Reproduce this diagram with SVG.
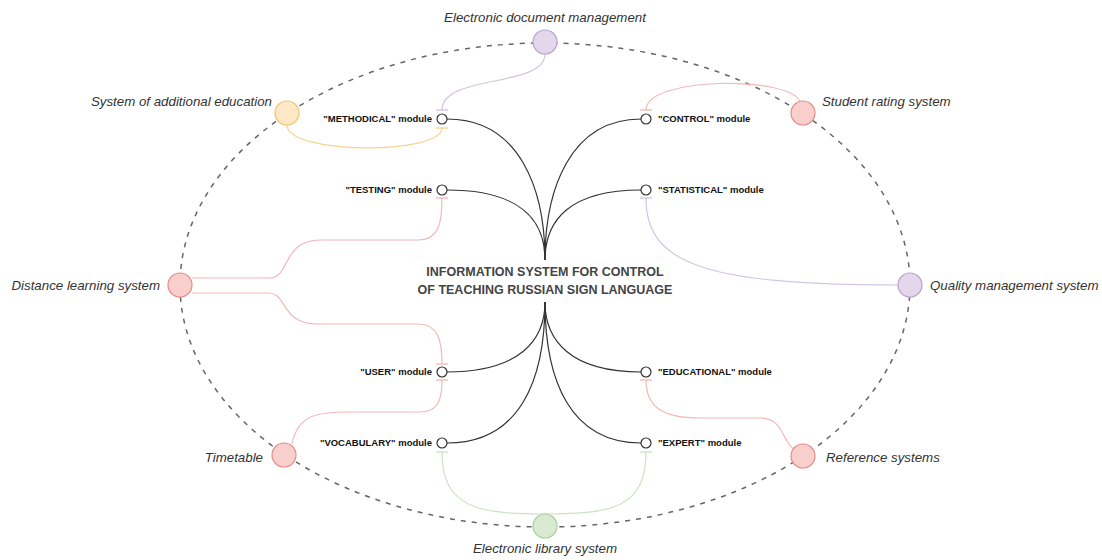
<svg xmlns="http://www.w3.org/2000/svg" width="1102" height="560" viewBox="0 0 1102 560">
<style>
.ext{font-family:"Liberation Sans",Arial,sans-serif;font-style:italic;font-size:13.3px;fill:#333}
.mod{font-family:"Liberation Sans",Arial,sans-serif;font-weight:bold;font-size:9.5px;fill:#111}
.title{font-family:"Liberation Sans",Arial,sans-serif;font-weight:bold;font-size:12.5px;fill:#444}
.core{fill:none;stroke:#333;stroke-width:1.2}
.mc{fill:#fff;stroke:#333;stroke-width:1.2}
.c{fill:none;stroke-width:1.2}
.pu{stroke:#d3c5e4}.or{stroke:#f5d48f}.re{stroke:#f2b9b7}.gr{stroke:#cde4c4}
.tick{stroke-width:1.4}
.ring{fill:none;stroke:#666;stroke-width:1.5;stroke-dasharray:5 6}
</style>
<rect width="1102" height="560" fill="#fff"/>
<ellipse class="ring" cx="545" cy="285" rx="365" ry="242"/>
<g id="connectors">
<path class="core" d="M447,119 C520,119 545,190 545,260"/>
<path class="core" d="M641,119 C570,119 545,190 545,260"/>
<path class="core" d="M447,190 C520,190 545,220 545,260"/>
<path class="core" d="M641,190 C570,190 545,220 545,260"/>
<path class="core" d="M447,372 C520,372 545,340 545,302"/>
<path class="core" d="M641,372 C570,372 545,340 545,302"/>
<path class="core" d="M447,443 C520,443 545,380 545,302"/>
<path class="core" d="M641,443 C570,443 545,380 545,302"/>
<path class="c pu" d="M545,54 C545,88 442,74 442,110"/>
<line class="tick pu" x1="436" y1="110" x2="448" y2="110"/>
<path class="c or" d="M287,125 C287,155 442,155 442,128"/>
<line class="tick or" x1="436" y1="128" x2="448" y2="128"/>
<path class="c re" d="M800,102 C792,76 646,76 646,110"/>
<line class="tick re" x1="640" y1="110" x2="652" y2="110"/>
<path class="c pu" d="M646,198 C646,262 700,285 898,285"/>
<line class="tick pu" x1="640" y1="198" x2="652" y2="198"/>
<path class="c re" d="M192,278 L270,278 C290,278 282,240 320,240 L418,240 C438,240 442,225 442,198"/>
<line class="tick re" x1="436" y1="198" x2="448" y2="198"/>
<path class="c re" d="M192,293 L268,293 C288,293 280,324 318,324 L418,324 C438,324 442,340 442,364"/>
<line class="tick re" x1="436" y1="364" x2="448" y2="364"/>
<path class="c re" d="M292,444 C298,414 318,412 350,412 L420,412 C438,412 442,400 442,380"/>
<line class="tick re" x1="436" y1="380" x2="448" y2="380"/>
<path class="c re" d="M646,380 C646,408 664,418 700,418 L760,418 C784,418 782,442 794,449"/>
<line class="tick re" x1="640" y1="380" x2="652" y2="380"/>
<path class="c gr" d="M442,452 C442,508 478,514 545,514"/>
<line class="tick gr" x1="436" y1="452" x2="448" y2="452"/>
<path class="c gr" d="M646,452 C646,508 612,514 545,514"/>
<line class="tick gr" x1="640" y1="452" x2="652" y2="452"/>
</g>
<g id="core">
<text class="title" x="545" y="276" text-anchor="middle">INFORMATION SYSTEM FOR CONTROL</text>
<text class="title" x="545" y="294" text-anchor="middle">OF TEACHING RUSSIAN SIGN LANGUAGE</text>
</g>
<g id="mod-methodical"><circle class="mc" cx="442" cy="119" r="5"/><text class="mod" x="432" y="122" text-anchor="end">"METHODICAL" module</text></g>
<g id="mod-control"><circle class="mc" cx="646" cy="119" r="5"/><text class="mod" x="658" y="122">"CONTROL" module</text></g>
<g id="mod-testing"><circle class="mc" cx="442" cy="190" r="5"/><text class="mod" x="432" y="193" text-anchor="end">"TESTING" module</text></g>
<g id="mod-statistical"><circle class="mc" cx="646" cy="190" r="5"/><text class="mod" x="658" y="193">"STATISTICAL" module</text></g>
<g id="mod-user"><circle class="mc" cx="442" cy="372" r="5"/><text class="mod" x="432" y="375" text-anchor="end">"USER" module</text></g>
<g id="mod-educational"><circle class="mc" cx="646" cy="372" r="5"/><text class="mod" x="658" y="375">"EDUCATIONAL" module</text></g>
<g id="mod-vocabulary"><circle class="mc" cx="442" cy="443" r="5"/><text class="mod" x="432" y="446" text-anchor="end">"VOCABULARY" module</text></g>
<g id="mod-expert"><circle class="mc" cx="646" cy="443" r="5"/><text class="mod" x="658" y="446">"EXPERT" module</text></g>
<g id="ext-doc"><circle cx="545" cy="42" r="12" fill="#e4d7ec" stroke="#b9a2cf" stroke-width="1.2"/><text class="ext" x="545" y="22" text-anchor="middle">Electronic document management</text></g>
<g id="ext-additional"><circle cx="287" cy="113" r="12" fill="#ffe8c8" stroke="#f0c46c" stroke-width="1.2"/><text class="ext" x="272" y="106" text-anchor="end">System of additional education</text></g>
<g id="ext-rating"><circle cx="803" cy="113" r="12" fill="#f8cfcd" stroke="#e48e8a" stroke-width="1.2"/><text class="ext" x="822" y="106">Student rating system</text></g>
<g id="ext-distance"><circle cx="180" cy="285" r="12" fill="#f8cfcd" stroke="#e48e8a" stroke-width="1.2"/><text class="ext" x="160" y="290" text-anchor="end">Distance learning system</text></g>
<g id="ext-quality"><circle cx="910" cy="285" r="12" fill="#e4d7ec" stroke="#b9a2cf" stroke-width="1.2"/><text class="ext" x="930" y="290">Quality management system</text></g>
<g id="ext-timetable"><circle cx="284" cy="455" r="12" fill="#f8cfcd" stroke="#e48e8a" stroke-width="1.2"/><text class="ext" x="263" y="462" text-anchor="end">Timetable</text></g>
<g id="ext-reference"><circle cx="803" cy="456" r="12" fill="#f8cfcd" stroke="#e48e8a" stroke-width="1.2"/><text class="ext" x="826" y="462">Reference systems</text></g>
<g id="ext-library"><circle cx="545" cy="526" r="12" fill="#d8ebd2" stroke="#a9d09a" stroke-width="1.2"/><text class="ext" x="545" y="553" text-anchor="middle">Electronic library system</text></g>
</svg>
